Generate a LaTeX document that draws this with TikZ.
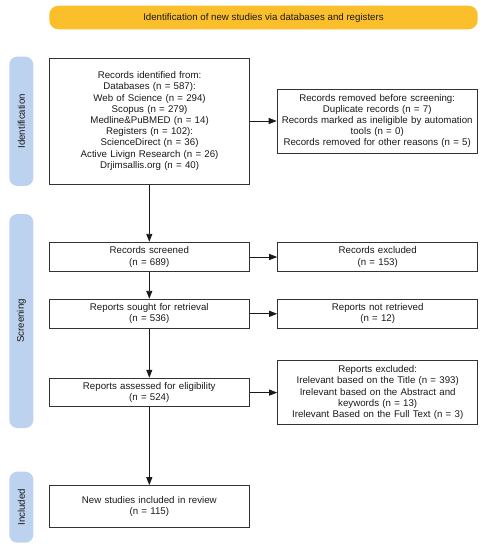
\documentclass[tikz,border=0pt]{standalone}
\usepackage{fontspec}
\setmainfont{Liberation Sans}
\usetikzlibrary{arrows.meta}
\definecolor{banner}{HTML}{FBBF2B}
\definecolor{sidebar}{HTML}{BCD2EE}
\definecolor{txt}{HTML}{1A1A1A}
\definecolor{edge}{HTML}{333333}
\definecolor{wire}{HTML}{1A1A1A}
\tikzset{
  every node/.style={font=\fontsize{9.7}{11.2}\selectfont, text=txt},
  box/.style={draw=edge, line width=1pt, fill=white, align=center, inner sep=2pt, minimum width=200pt, text width=196pt},
  sidebox/.style={fill=sidebar, rounded corners=8pt, minimum width=24pt, inner sep=0pt},
  conn/.style={draw=wire, line width=0.9pt, -{Triangle[length=8pt,width=6pt]}},
}
\begin{document}
\begin{tikzpicture}[x=1pt,y=-1pt]
\useasboundingbox (0,0) rectangle (487,550);
% banner
\node[fill=banner, rounded corners=9pt, minimum width=428.4pt, minimum height=23.6pt, inner sep=0pt] (banner) at (263.5,17.5) {Identification of new studies via databases and registers};
% side bars
\node[sidebox, minimum height=129.3pt] (sid) at (21.3,121.3) {};
\node[rotate=90] (sidt) at (sid.center) {Identification};
\node[sidebox, minimum height=214pt] (sscr) at (21.3,321) {};
\node[rotate=90] (sscrt) at (sscr.center) {Screening};
\node[sidebox, minimum height=71pt] (sinc) at (21.3,507.2) {};
\node[rotate=90] (sinct) at (sinc.center) {Included};
% boxes
\node[box, minimum height=126pt] (id) at (149.6,121) {Records identified from:\\Databases (n = 587):\\Web of Science (n = 294)\\Scopus (n = 279)\\Medline\&PuBMED (n = 14)\\Registers (n = 102):\\ScienceDirect (n = 36)\\Active Livign Research (n = 26)\\Drjimsallis.org (n = 40)};
\node[box, minimum height=64pt] (rem) at (377.2,121) {Records removed before screening:\\Duplicate records (n = 7)\\Records marked as ineligible by automation\\tools (n = 0)\\Records removed for other reasons (n = 5)};
\node[box, minimum height=29.4pt] (scr) at (149.3,257) {Records screened\\(n = 689)};
\node[box, minimum height=29.4pt] (exc) at (377.7,257) {Records excluded\\(n = 153)};
\node[box, minimum height=29pt] (sou) at (149.3,313.8) {Reports sought for retrieval\\(n = 536)};
\node[box, minimum height=29pt] (nret) at (377.7,313.8) {Reports not retrieved\\(n = 12)};
\node[box, minimum height=28.7pt] (ass) at (149.3,392.6) {Reports assessed for eligibility\\(n = 524)};
\node[box, minimum height=63.3pt] (rexc) at (377.7,392.6) {Reports excluded:\\Irelevant based on the Title (n = 393)\\Irelevant based on the Abstract and\\keywords (n = 13)\\Irelevant Based on the Full Text (n = 3)};
\node[box, minimum height=42.3pt] (inc) at (149.3,506.8) {New studies included in review\\(n = 115)};
% connectors
\draw[conn] (id.east) -- (rem.west);
\draw[conn] (id.south -| scr.north) -- (scr.north);
\draw[conn] (scr.east) -- (exc.west);
\draw[conn] (scr.south) -- (sou.north);
\draw[conn] (sou.east) -- (nret.west);
\draw[conn] (sou.south) -- (ass.north);
\draw[conn] (ass.east) -- (rexc.west);
\draw[conn] (ass.south) -- (inc.north);
\end{tikzpicture}
\end{document}
